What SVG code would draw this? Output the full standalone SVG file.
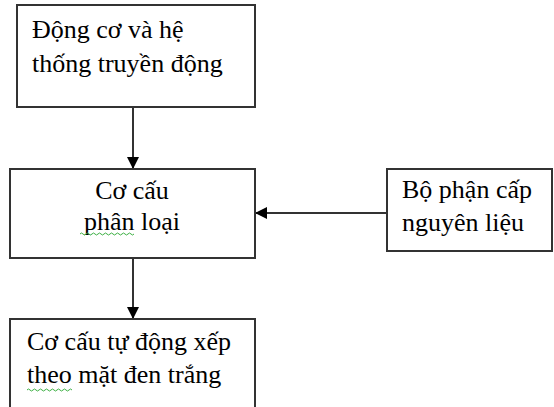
<svg xmlns="http://www.w3.org/2000/svg" width="554" height="407" viewBox="0 0 554 407">
<style>
.box{fill:#fff;stroke:#333;stroke-width:2}
.t{font-family:'Liberation Serif','DejaVu Serif',serif;font-size:26px;fill:#000}
.c{text-anchor:middle}
.line{stroke:#333;stroke-width:2;fill:none}
.sq{stroke:#3cb043;stroke-width:1;fill:none}
</style>
<defs>
<marker id="ah" markerWidth="12" markerHeight="12" refX="12" refY="6" orient="auto" markerUnits="userSpaceOnUse">
<path d="M0,0 L12,6 L0,12 Z" fill="#000"/>
</marker>
</defs>
<rect width="554" height="407" fill="#fff"/>
<g id="connectors">
<line class="line" x1="133" y1="107" x2="133" y2="169" marker-end="url(#ah)"/>
<line class="line" x1="133" y1="258" x2="133" y2="319" marker-end="url(#ah)"/>
<line class="line" x1="387" y1="213" x2="255" y2="213" marker-end="url(#ah)"/>
</g>
<g id="node1">
<rect class="box" x="17" y="5" width="238" height="102"/>
<text class="t" x="32" y="38">Động cơ và hệ</text>
<text class="t" x="32" y="72">thống truyền động</text>
</g>
<g id="node2">
<rect class="box" x="10" y="169" width="245" height="89"/>
<text class="t c" x="132" y="199">Cơ cấu</text>
<text class="t c" x="132" y="230">phân loại</text>
<path class="sq" d="M80,234 q1.5,-2 3,0 t3,0 t3,0 t3,0 t3,0 t3,0 t3,0 t3,0 t3,0 t3,0 t3,0 t3,0 t3,0 t3,0 t3,0 t3,0 t3,0 t3,0"/>
</g>
<g id="node3">
<rect class="box" x="10" y="319" width="245" height="95"/>
<text class="t" x="27" y="350">Cơ cấu tự động xếp</text>
<text class="t" x="27" y="383">theo mặt đen trắng</text>
<path class="sq" d="M27,390 q1.5,-2 3,0 t3,0 t3,0 t3,0 t3,0 t3,0 t3,0 t3,0 t3,0 t3,0 t3,0 t3,0 t3,0 t3,0 t3,0"/>
</g>
<g id="node4">
<rect class="box" x="387" y="169" width="165" height="82"/>
<text class="t" x="402" y="198">Bộ phận cấp</text>
<text class="t" x="402" y="231">nguyên liệu</text>
</g>
</svg>
